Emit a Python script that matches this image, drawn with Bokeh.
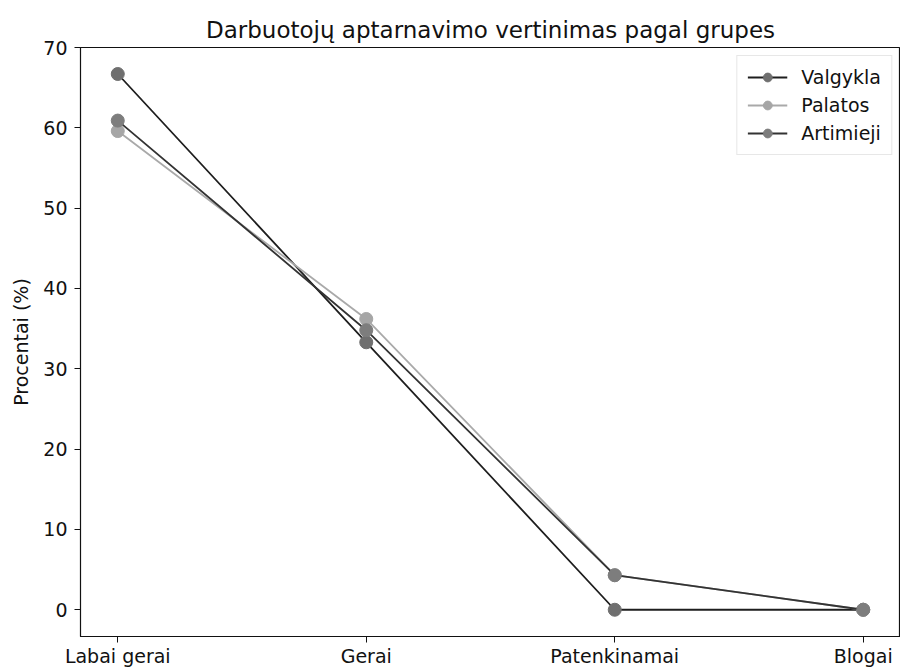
from bokeh.plotting import figure
from bokeh.models import FixedTicker, Range1d, Legend, LegendItem
from bokeh.embed import file_html
from bokeh.resources import INLINE

categories = ["Labai gerai", "Gerai", "Patenkinamai", "Blogai"]
valgykla = [66.7, 33.3, 0.0, 0.0]
palatos = [59.6, 36.2, 4.3, 0.0]
artimieji = [60.9, 34.8, 4.3, 0.0]
series_names = ["Valgykla", "Palatos", "Artimieji"]
y_ticks = [0, 10, 20, 30, 40, 50, 60, 70]

line_colors = ["#1e1e1e", "#a9a9a9", "#333333"]
marker_colors = ["#6f6f6f", "#a6a6a6", "#7d7d7d"]

FONT = "DejaVu Sans"
xs = list(range(len(categories)))

p = figure(frame_width=820, frame_height=589, output_backend="svg",
           toolbar_location=None,
           x_range=Range1d(-0.15, len(categories) - 1 + 0.15),
           y_range=Range1d(-3.33, 70.0),
           min_border_left=80, min_border_top=47, min_border_right=0,
           min_border_bottom=10)

p.title.text = "Darbuotojų aptarnavimo vertinimas pagal grupes"
p.title.align = "center"
p.title.text_font = FONT
p.title.text_font_size = "23px"
p.title.text_font_style = "normal"
p.title.text_color = "#111111"
p.title.standoff = 10

p.xgrid.visible = False
p.ygrid.visible = False
p.outline_line_color = "#111111"
p.outline_line_width = 1.2

p.xaxis.ticker = FixedTicker(ticks=xs)
p.xaxis.major_label_overrides = {i: c for i, c in enumerate(categories)}
p.yaxis.ticker = FixedTicker(ticks=y_ticks)
p.yaxis.axis_label = "Procentai (%)"
for ax in (p.xaxis, p.yaxis):
    ax.major_label_text_font = FONT
    ax.major_label_text_font_size = "19px"
    ax.major_label_text_color = "#111111"
    ax.axis_line_color = "#111111"
    ax.major_tick_line_color = "#111111"
    ax.major_tick_out = 6
    ax.major_tick_in = 0
    ax.minor_tick_line_color = None
p.xaxis.major_label_standoff = 2
p.yaxis.major_label_standoff = 7
p.yaxis.axis_label_text_font = FONT
p.yaxis.axis_label_text_font_size = "19px"
p.yaxis.axis_label_text_font_style = "normal"
p.yaxis.axis_label_text_color = "#111111"
p.yaxis.axis_label_standoff = 8

items = []
for name, vals, lc, mc in zip(series_names, [valgykla, palatos, artimieji], line_colors, marker_colors):
    r1 = p.line(xs, vals, line_color=lc, line_width=1.8)
    r2 = p.scatter(xs, vals, size=13, fill_color=mc, line_color=mc)
    items.append(LegendItem(label=name, renderers=[r1, r2]))

legend = Legend(items=items, location="top_right")
legend.label_text_font = FONT
legend.label_text_font_size = "19px"
legend.label_text_color = "#111111"
legend.glyph_width = 40
legend.glyph_height = 22
legend.label_standoff = 14
legend.spacing = 6
legend.padding = 10
legend.margin = 8
legend.border_line_color = "#d0d0d0"
legend.border_line_width = 1
legend.background_fill_alpha = 0.85
p.add_layout(legend)

open("out.html", "w").write(file_html(p, INLINE))
